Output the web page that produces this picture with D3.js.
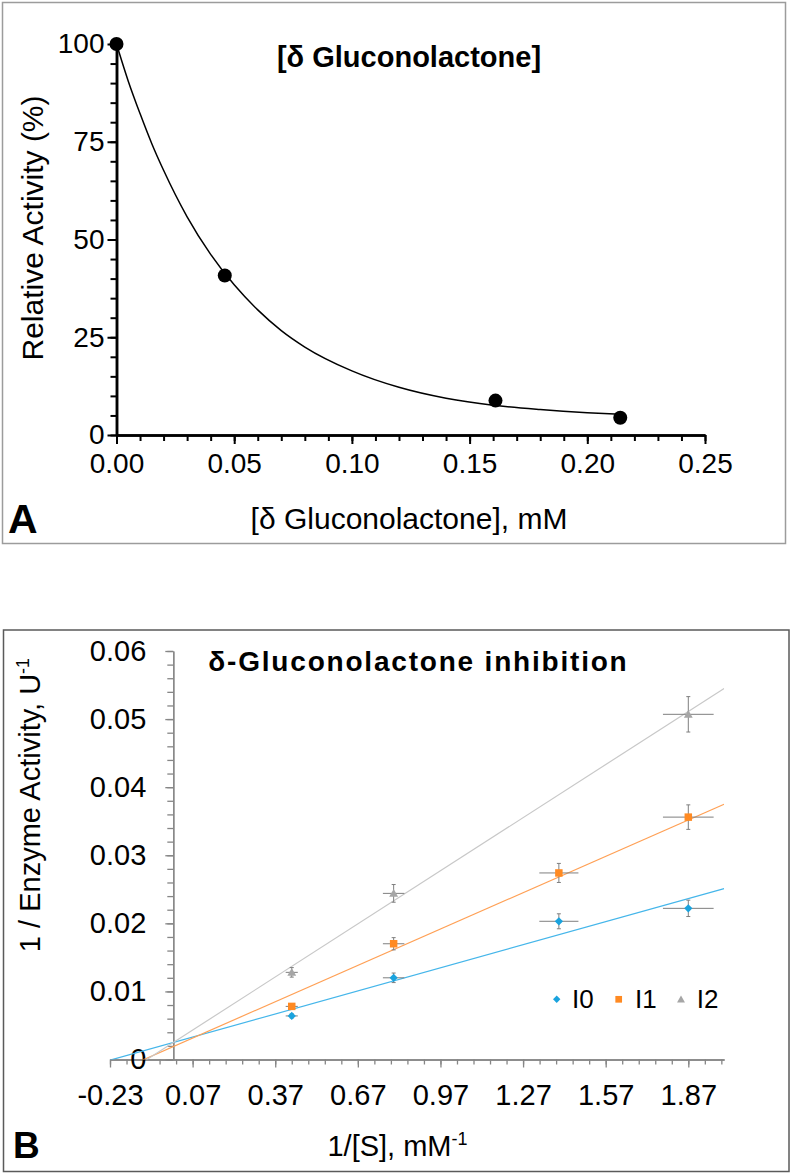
<!DOCTYPE html>
<html><head><meta charset="utf-8">
<script src="https://cdn.jsdelivr.net/npm/d3@7"></script>
<style>
body{margin:0;background:#fff;}
svg{display:block;}
text{font-family:"Liberation Sans",Arial,Helvetica,sans-serif;}
</style>
</head><body>
<svg id="chart" width="792" height="1175"></svg>
<script>
// ---------- Panel A data ----------
const inhibitorConc = [0, 0.046, 0.161, 0.214];
const relActivity = [100, 40.8, 8.8, 4.4];
// fitted curve
const fitConc = [0, 0.005, 0.01, 0.015, 0.02, 0.03, 0.04, 0.05, 0.06, 0.07, 0.08, 0.10, 0.12, 0.14, 0.16, 0.18, 0.20, 0.214];
const fitActivity = [100, 90.5, 82.2, 74.5, 67.7, 55.8, 46.2, 38.4, 32.0, 26.7, 22.5, 16.4, 12.2, 9.4, 7.6, 6.5, 5.7, 5.3];
const yTicksA = [0, 25, 50, 75, 100];
const xTicksA = [0, 0.05, 0.10, 0.15, 0.20, 0.25];

// ---------- Panel B data ----------
const invS = [0.43, 0.80, 1.40, 1.87];
const invSErr = [0.022, 0.039, 0.071, 0.092];
const seriesNames = ["I0", "I1", "I2"];
const I0 = [0.0064, 0.0120, 0.0203, 0.0222];
const I0Err = [0.0003, 0.0007, 0.0011, 0.0012];
const I1 = [0.0078, 0.0170, 0.0274, 0.0356];
const I1Err = [0.0003, 0.0009, 0.0014, 0.0018];
const I2 = [0.0128, 0.0244, null, 0.0507];
const I2Err = [0.0007, 0.0013, null, 0.0026];
const trendSlope = [0.0113, 0.0178, 0.0260];
const trendIntercept = [0.0025, 0.0019, 0.0025];
const xTickLabelsB = [-0.23, 0.07, 0.37, 0.67, 0.97, 1.27, 1.57, 1.87];
const yTicksB = [0, 0.01, 0.02, 0.03, 0.04, 0.05, 0.06];

const markerColors = ["#1aa3de", "#ff8a22", "#a6a6a6"];
const lineColors = ["#45b6ea", "#ffa055", "#c8c8c8"];

const svg = d3.select("#chart");

// panel frames
svg.append("rect").attr("x", 2.5).attr("y", 2.5).attr("width", 783).attr("height", 541)
  .attr("fill", "none").attr("stroke", "#9c9c9c").attr("stroke-width", 1.5);
svg.append("rect").attr("x", 3.5).attr("y", 630).attr("width", 785.5).attr("height", 541.5)
  .attr("fill", "none").attr("stroke", "#5a5a5a").attr("stroke-width", 1.5);

// ================= Panel A =================
const xA = d3.scaleLinear().domain([0, 0.25]).range([116.5, 705]);
const yA = d3.scaleLinear().domain([0, 100]).range([435, 44]);
const gA = svg.append("g");

function styleAxisA(g) {
  g.select(".domain").attr("stroke", "#000").attr("stroke-width", 2.5);
  g.selectAll(".tick line").attr("stroke", "#000").attr("stroke-width", 2);
  g.selectAll(".tick text").attr("fill", "#000").style("font-size", "28px")
    .style("font-family", '"Liberation Sans",Arial,sans-serif');
}
// x minor
gA.append("g").attr("transform", "translate(0,435)")
  .call(d3.axisBottom(xA).tickValues(d3.range(0, 26).map(i => i * 0.01)).tickSize(6).tickFormat("").tickSizeOuter(0))
  .call(styleAxisA);
// x major
gA.append("g").attr("transform", "translate(0,435)")
  .call(d3.axisBottom(xA).tickValues(xTicksA).tickSize(9).tickPadding(9.5).tickFormat(d => d.toFixed(2)).tickSizeOuter(0))
  .call(styleAxisA);
// y minor
gA.append("g").attr("transform", "translate(116.5,0)")
  .call(d3.axisLeft(yA).tickValues(d3.range(0, 21).map(i => i * 5)).tickSize(6).tickFormat("").tickSizeOuter(0))
  .call(styleAxisA);
// y major
gA.append("g").attr("transform", "translate(116.5,0)")
  .call(d3.axisLeft(yA).tickValues(yTicksA).tickSize(9).tickPadding(3).tickFormat(d3.format("d")).tickSizeOuter(0))
  .call(styleAxisA);

// curve
gA.append("path")
  .datum(fitConc.map((c, i) => [c, fitActivity[i]]))
  .attr("fill", "none").attr("stroke", "#000").attr("stroke-width", 1.5)
  .attr("d", d3.line().x(d => xA(d[0])).y(d => yA(d[1])).curve(d3.curveMonotoneX));

// points
gA.selectAll("circle.pt").data(inhibitorConc.map((c, i) => [c, relActivity[i]]))
  .join("circle").attr("class", "pt")
  .attr("cx", d => xA(d[0])).attr("cy", d => yA(d[1])).attr("r", 7).attr("fill", "#000");

gA.append("text").attr("x", 409).attr("y", 67).attr("text-anchor", "middle")
  .style("font-size", "29px").style("font-weight", "bold").text("[δ Gluconolactone]");
gA.append("text").attr("x", 409).attr("y", 529).attr("text-anchor", "middle")
  .style("font-size", "30px").text("[δ Gluconolactone], mM");
gA.append("text").attr("transform", "translate(43,228) rotate(-90)").attr("text-anchor", "middle")
  .style("font-size", "30px").text("Relative Activity (%)");
gA.append("text").attr("x", 8).attr("y", 533)
  .style("font-size", "41px").style("font-weight", "bold").text("A");

// ================= Panel B =================
const xB = d3.scaleLinear().domain([-0.23, 2.0]).range([110, 724.1]);
const yB = d3.scaleLinear().domain([0, 0.06]).range([1059.5, 651]);
const gB = svg.append("g");
const axisGray = "#868686";

function styleAxisB(g) {
  g.select(".domain").attr("stroke", axisGray).attr("stroke-width", 1.3);
  g.selectAll(".tick line").attr("stroke", axisGray).attr("stroke-width", 1.3);
  g.selectAll(".tick text").attr("fill", "#000").style("font-size", "29px")
    .style("font-family", '"Liberation Sans",Arial,sans-serif');
}
const minorX = d3.range(0, 38).map(i => +(-0.23 + 0.06 * i).toFixed(2));
gB.append("g").attr("transform", "translate(0,1059.5)")
  .call(d3.axisBottom(xB).tickValues(minorX).tickSize(5).tickFormat("").tickSizeOuter(0))
  .call(styleAxisB);
gB.append("g").attr("transform", "translate(0,1059.5)")
  .call(d3.axisBottom(xB).tickValues(xTickLabelsB).tickSize(8).tickPadding(16.5).tickFormat(d => d.toFixed(2)).tickSizeOuter(0))
  .call(styleAxisB);
const minorY = d3.range(0, 31).map(i => +(i * 0.002).toFixed(3));
gB.append("g").attr("transform", "translate(173.3,0)")
  .call(d3.axisLeft(yB).tickValues(minorY).tickSize(6).tickFormat("").tickSizeOuter(0))
  .call(styleAxisB);
gB.append("g").attr("transform", "translate(173.3,0)")
  .call(d3.axisLeft(yB).tickValues(yTicksB).tickSize(8).tickPadding(19).tickFormat(d => d === 0 ? "0" : d.toFixed(2)).tickSizeOuter(0))
  .call(styleAxisB);

// clip
svg.append("defs").append("clipPath").attr("id", "clipB")
  .append("rect").attr("x", 110).attr("y", 651).attr("width", 614.1).attr("height", 408.5);

// trend lines
const plotB = gB.append("g").attr("clip-path", "url(#clipB)");
seriesNames.forEach((s, k) => {
  const pts = xB.domain().map(x => [x, trendIntercept[k] + trendSlope[k] * x]);
  plotB.append("path").datum(pts)
    .attr("fill", "none").attr("stroke", lineColors[k]).attr("stroke-width", 1.2)
    .attr("d", d3.line().x(d => xB(d[0])).y(d => yB(d[1])));
});

// error bars & markers
const seriesVals = [I0, I1, I2];
const seriesErrs = [I0Err, I1Err, I2Err];
const errG = gB.append("g").attr("stroke", "#7f7f7f").attr("stroke-width", 1);
seriesVals.forEach((vals, k) => {
  vals.forEach((v, i) => {
    if (v === null) return;
    const cx = xB(invS[i]), cy = yB(v);
    const ex = invSErr[i], ey = seriesErrs[k][i];
    errG.append("line").attr("x1", xB(invS[i] - ex)).attr("x2", xB(invS[i] + ex)).attr("y1", cy).attr("y2", cy);
    errG.append("line").attr("x1", cx).attr("x2", cx).attr("y1", yB(v - ey)).attr("y2", yB(v + ey));
    errG.append("line").attr("x1", cx - 2).attr("x2", cx + 2).attr("y1", yB(v - ey)).attr("y2", yB(v - ey));
    errG.append("line").attr("x1", cx - 2).attr("x2", cx + 2).attr("y1", yB(v + ey)).attr("y2", yB(v + ey));
  });
});
function drawMarker(g, k, x, y, scale) {
  if (k === 0) {
    g.append("path").attr("d", d3.symbol(d3.symbolSquare, 34 * scale)())
      .attr("transform", `translate(${x},${y}) rotate(45)`).attr("fill", markerColors[0]);
  } else if (k === 1) {
    g.append("path").attr("d", d3.symbol(d3.symbolSquare, 56 * scale)())
      .attr("transform", `translate(${x},${y})`).attr("fill", markerColors[1]);
  } else {
    g.append("path").attr("d", d3.symbol(d3.symbolTriangle, 34 * scale)())
      .attr("transform", `translate(${x},${y + 0.8})`).attr("fill", markerColors[2]);
  }
}
const markG = gB.append("g");
seriesVals.forEach((vals, k) => {
  vals.forEach((v, i) => {
    if (v === null) return;
    drawMarker(markG, k, xB(invS[i]), yB(v), 1);
  });
});

// legend
const legX = [556.7, 618.7, 681];
const legTextX = [572, 635, 696.7];
seriesNames.forEach((s, k) => {
  drawMarker(gB, k, legX[k], 999.3, 0.8);
  gB.append("text").attr("x", legTextX[k]).attr("y", 1008.3).style("font-size", "26px").text(s);
});

// titles
gB.append("text").attr("x", 208.3).attr("y", 671)
  .style("font-size", "28px").style("font-weight", "bold").style("letter-spacing", "1.8px")
  .text("δ-Gluconolactone inhibition");
const xt = gB.append("text").attr("x", 397.5).attr("y", 1156).attr("text-anchor", "middle").style("font-size", "29px");
xt.append("tspan").text("1/[S], mM");
xt.append("tspan").attr("dy", -11).style("font-size", "18px").text("-1");
const yt = gB.append("text").attr("transform", "translate(40,805) rotate(-90)").attr("text-anchor", "middle").style("font-size", "29px");
yt.append("tspan").text("1 / Enzyme Activity, U");
yt.append("tspan").attr("dy", -11).style("font-size", "18px").text("-1");
gB.append("text").attr("x", 13).attr("y", 1158)
  .style("font-size", "37px").style("font-weight", "bold").text("B");
</script>
</body></html>
